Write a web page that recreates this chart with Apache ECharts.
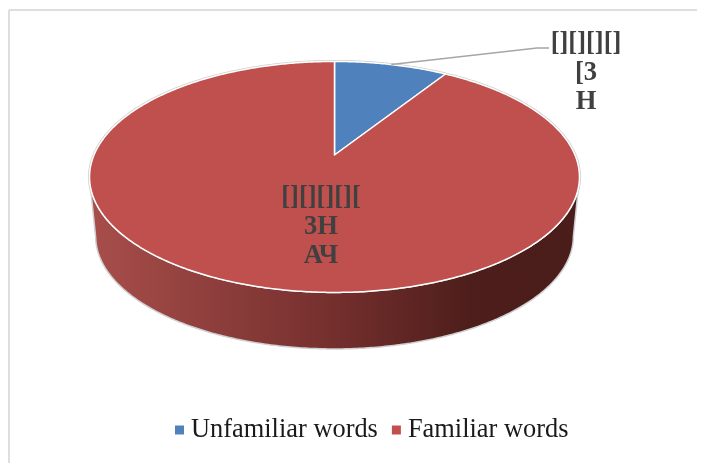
<!DOCTYPE html>
<html><head><meta charset="utf-8">
<style>html,body{margin:0;padding:0;background:#fff}#c{width:706px;height:463px}</style>
<script src="https://cdn.jsdelivr.net/npm/echarts@6/dist/echarts.min.js"></script>
</head><body><div id="c"></div>
<script>
const categories = ['Unfamiliar words', 'Familiar words'];
const values = [9, 91];
const sliceLabels = ['[][][][]\n[3\nH', '[][][][][\n3H\nАЧ'];
const colors = ['#4f81bd', '#c0504d'];

// Projection of the pie disc: a perspective view, so the centre of the pie sits above the ellipse centre.
const P = {cx: 334.5, cy: 177, a: 240.5, b: 115.5, c: 22, k: 0.19, depth: 59.4, shrink: 0.975};
function project(theta, lower) {
  const u = Math.sin(theta), v = Math.cos(theta), w = 1 + P.k * v;
  const s = lower ? P.shrink : 1, cy = lower ? P.cy + P.depth : P.cy;
  return [P.cx + s * P.a * u / w, cy - s * (P.b * v + P.c) / w];
}
const apex = [P.cx, P.cy - P.c];
const total = values.reduce((s, v) => s + v, 0);
function range(i) {
  const before = values.slice(0, i).reduce((s, v) => s + v, 0);
  return [before / total * 2 * Math.PI, (before + values[i]) / total * 2 * Math.PI];
}
function samples(t0, t1) {
  const n = Math.max(2, Math.ceil((t1 - t0) / 0.01)), out = [];
  for (let i = 0; i <= n; i++) out.push(t0 + (t1 - t0) * i / n);
  return out;
}
const sideFill = new echarts.graphic.LinearGradient(90, 0, 579, 0, [
  {offset: 0, color: '#a84e4b'}, {offset: 0.5, color: '#742f2d'},
  {offset: 0.78, color: '#4d1e1b'}, {offset: 1, color: '#4a1c1a'}
], true);

function sideItem(i) {
  const [t0, t1] = range(i);
  const front = samples(t0, t1).filter(t => Math.cos(t) <= -P.k);
  if (!front.length) return {type: 'group', children: []};
  const pts = front.map(t => project(t, false)).concat(front.slice().reverse().map(t => project(t, true)));
  return {type: 'polygon', shape: {points: pts},
    style: {fill: sideFill, stroke: '#cfcfcf', lineWidth: 1.5}, silent: true};
}
function topItem(i) {
  const [t0, t1] = range(i);
  const arc = samples(t0, t1).map(t => project(t, false));
  return {type: 'polygon', shape: {points: [apex].concat(arc)},
    style: {fill: colors[i], stroke: '#ffffff', lineWidth: 1.5, lineJoin: 'round'}, silent: true};
}
function outline() {
  return {type: 'polygon', shape: {points: samples(0, 2 * Math.PI).map(t => project(t, false))},
    style: {fill: 'none', stroke: '#cfcfcf', lineWidth: 3}, silent: true};
}
const labelFont = {fontFamily: 'Liberation Serif', fontWeight: 'bold', fontSize: 26.5, lineHeight: 29.5, fill: '#404040', align: 'center', verticalAlign: 'middle'};
function labelItem(i) {
  if (i === 0) {
    const m = project((range(0)[0] + range(0)[1]) / 2, false);
    return {type: 'group', children: [
      {type: 'polyline', shape: {points: [m, [537, 48], [549, 48]]}, style: {fill: 'none', stroke: '#a6a6a6', lineWidth: 1.5}, silent: true},
      {type: 'text', style: Object.assign({text: sliceLabels[0], x: 586, y: 73}, labelFont), silent: true}
    ]};
  }
  return {type: 'text', style: Object.assign({text: sliceLabels[1], x: 321, y: 227}, labelFont), silent: true};
}
const frontLayers = categories.map((name, i) => ({
  type: 'custom', name, coordinateSystem: 'none', data: [values[i]], silent: true, z: 2,
  itemStyle: {color: colors[i]}, animation: false,
  renderItem: () => ({type: 'group', children: [i === 0 ? outline() : {type:'group',children:[]}, sideItem(i)]})
}));
const topLayers = categories.map((name, i) => ({
  type: 'custom', name, coordinateSystem: 'none', data: [values[i]], silent: true, z: 3,
  itemStyle: {color: colors[i]}, animation: false,
  renderItem: () => topItem(i)
}));
const labelLayers = categories.map((name, i) => ({
  type: 'custom', name, coordinateSystem: 'none', data: [values[i]], silent: true, z: 4,
  itemStyle: {color: colors[i]}, animation: false,
  renderItem: () => labelItem(i)
}));
const chart = echarts.init(document.getElementById('c'), null, {renderer: 'canvas'});
chart.setOption({
  animation: false,
  backgroundColor: '#ffffff',
  legend: {
    data: categories, left: 170, top: 412, icon: 'rect', itemWidth: 9, itemHeight: 9, itemGap: 14,
    textStyle: {fontFamily: 'Liberation Serif', fontSize: 26.4, color: '#1a1a1a', padding: [0, 0, 0, 2]},
    selectedMode: false
  },
  graphic: [
    {type: 'line', shape: {x1: 9, y1: 10, x2: 697, y2: 10}, style: {stroke: '#dedede', lineWidth: 2}, silent: true},
    {type: 'line', shape: {x1: 9, y1: 10, x2: 9, y2: 463}, style: {stroke: '#dedede', lineWidth: 2}, silent: true}
  ],
  series: [...frontLayers, ...topLayers, ...labelLayers]
});
</script></body></html>
